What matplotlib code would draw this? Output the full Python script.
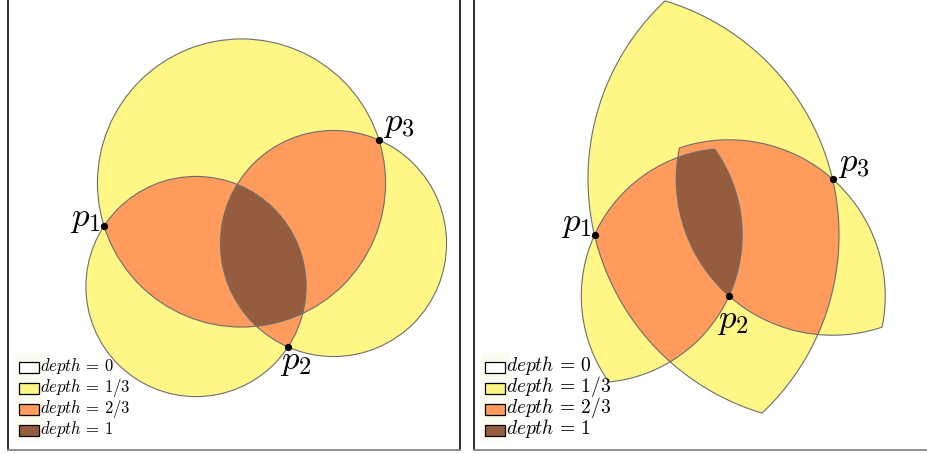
import numpy as np
import matplotlib.pyplot as plt
from matplotlib.colors import ListedColormap, BoundaryNorm
from matplotlib.patches import Circle, Polygon, Rectangle

plt.rcParams['mathtext.fontset'] = 'cm'

# point sets (pixel-like coordinates, y pointing down)
point_names = ['p_1', 'p_2', 'p_3']
left_x = [104, 288, 379]
left_y = [226, 347, 140]
right_x = [594.5, 729, 832.5]
right_y = [235, 296, 179]

# pairs of points defining each region
pairs = [(0, 1), (0, 2), (1, 2)]

depth_labels = ['0', '1/3', '2/3', '1']
depth_colors = ['#ffffff', '#fef685', '#fe9b5d', '#955d3e']

edge_col = '#6e6e6e'
cmap = ListedColormap(depth_colors)
norm = BoundaryNorm([-0.5, 0.5, 1.5, 2.5, 3.5], 4)


def grid(xlim, ylim, step=0.4):
    xs = np.arange(xlim[0], xlim[1], step) + step / 2
    ys = np.arange(ylim[0], ylim[1], step) + step / 2
    return np.meshgrid(xs, ys)


def lune_outline(a, b, n=200):
    a = np.asarray(a, float)
    b = np.asarray(b, float)
    r = np.hypot(*(b - a))
    th = np.arctan2(b[1] - a[1], b[0] - a[0])
    t1 = np.linspace(th - np.pi / 3, th + np.pi / 3, n)
    t2 = np.linspace(th + 2 * np.pi / 3, th + 4 * np.pi / 3, n)
    arc1 = np.c_[a[0] + r * np.cos(t1), a[1] + r * np.sin(t1)]
    arc2 = np.c_[b[0] + r * np.cos(t2), b[1] + r * np.sin(t2)]
    return np.vstack([arc1, arc2])


fig = plt.figure(figsize=(9.28, 4.54), dpi=100)
ax1 = fig.add_axes([8 / 928, 4 / 454, 452 / 928, 450 / 454])
ax2 = fig.add_axes([474 / 928, 4 / 454, 454 / 928, 450 / 454])

ax1.set_xlim(8, 460)
ax2.set_xlim(474, 928)
for ax in (ax1, ax2):
    ax.set_ylim(450, 0)
    ax.set_xticks([])
    ax.set_yticks([])
    ax.spines['top'].set_visible(False)
    ax.spines['left'].set_color('#2a2a2a')
    ax.spines['right'].set_color('#2a2a2a')
    ax.spines['bottom'].set_color('#8c8c8c')
    for s in ax.spines.values():
        s.set_linewidth(1.4)
ax2.spines['right'].set_visible(False)

# ---- left panel: disks with diameter p_i p_j ----
X, Y = grid((8, 460), (0, 450))
count = np.zeros_like(X)
for i, j in pairs:
    mx = (left_x[i] + left_x[j]) / 2
    my = (left_y[i] + left_y[j]) / 2
    r = np.hypot(left_x[j] - left_x[i], left_y[j] - left_y[i]) / 2
    count += ((X - mx) ** 2 + (Y - my) ** 2 <= r ** 2)
    ax1.add_patch(Circle((mx, my), r, fill=False, ec=edge_col, lw=0.8, zorder=3))
ax1.imshow(count, cmap=cmap, norm=norm, extent=(8, 460, 450, 0),
           origin='upper', interpolation='nearest', zorder=1)

# ---- right panel: lunes on p_i p_j ----
X, Y = grid((474, 928), (0, 450))
count = np.zeros_like(X)
for i, j in pairs:
    a = (right_x[i], right_y[i])
    b = (right_x[j], right_y[j])
    r = np.hypot(b[0] - a[0], b[1] - a[1])
    inside = (((X - a[0]) ** 2 + (Y - a[1]) ** 2 <= r ** 2) &
              ((X - b[0]) ** 2 + (Y - b[1]) ** 2 <= r ** 2))
    count += inside
    ax2.add_patch(Polygon(lune_outline(a, b), closed=True, fill=False,
                          ec=edge_col, lw=0.8, zorder=3))
ax2.imshow(count, cmap=cmap, norm=norm, extent=(474, 928, 450, 0),
           origin='upper', interpolation='nearest', zorder=1)

# ---- points and labels ----
left_offsets = [(-3, 0, 'right'), (-8, 22, 'left'), (4, -9, 'left')]
right_offsets = [(-3, -4, 'right'), (-12, 32, 'left'), (5, -8, 'left')]
for ax, xs, ys, offs in ((ax1, left_x, left_y, left_offsets),
                         (ax2, right_x, right_y, right_offsets)):
    ax.plot(xs, ys, 'o', color='black', ms=4.2, zorder=5)
    for name, x, y, (dx, dy, ha) in zip(point_names, xs, ys, offs):
        ax.text(x + dx, y + dy, f'${name}$', fontsize=25, ha=ha,
                va='baseline', zorder=6)

# ---- legends ----
for ax, x0, fs in ((ax1, 19, 12), (ax2, 485, 14)):
    ax.add_patch(Rectangle((x0 - 4, 353), 28, 88, fc='#fbfbef', ec='none', zorder=2))
    for k, (lab, col) in enumerate(zip(depth_labels, depth_colors)):
        yc = 367 + 21 * k
        ax.add_patch(Rectangle((x0, yc - 5), 20, 10.5, fc=col, ec='black',
                               lw=0.9, zorder=4))
        ax.text(x0 + 21, yc + 4, f'$depth\\, =\\, {lab}$', fontsize=fs,
                ha='left', va='baseline', zorder=4)

fig.savefig('out.png', dpi=100)
